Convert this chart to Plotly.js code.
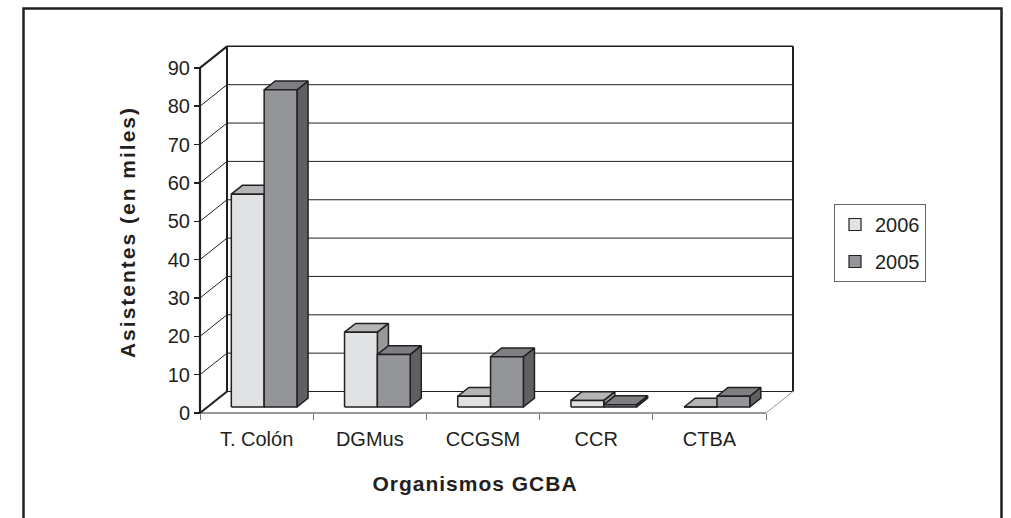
<!DOCTYPE html>
<html><head><meta charset="utf-8">
<script src="https://cdn.plot.ly/plotly-3.0.1.min.js"></script>
<style>
html,body{margin:0;padding:0;background:#fff}
#chart{width:1011px;height:518px}
.ytitle{letter-spacing:2px}
.xtitle{letter-spacing:1px}
</style></head><body><div id="chart"></div>
<script>
// ---- data ----
const categories = ['T. Colón', 'DGMus', 'CCGSM', 'CCR', 'CTBA'];
const seriesNames = ['2006', '2005'];
const values2006 = [55.5, 19.5, 2.8, 1.7, 0];
const values2005 = [82.7, 13.7, 13.1, 0.6, 2.8];
const yTickVals = [0, 10, 20, 30, 40, 50, 60, 70, 80, 90];

// ---- styling / geometry ----
const W = 1011, H = 518, mL = 155, mR = 216, mT = 30, mB = 84;
const pw = W - mL - mR, ph = H - mT - mB;
const axX0 = 200, axXN = 766, axY0 = 413, pxPer10 = 38.35;
const n = categories.length;
const ppx = (axXN - axX0) / n, ppy = pxPer10 / 10;
const xr = [(mL - axX0) / ppx, (mL + pw - axX0) / ppx];
const yr = [(axY0 - (mT + ph)) / ppy, (axY0 - mT) / ppy];
const DX = 27 / ppx, DY = 21.5 / ppy;       // full depth of the 3D box
const yTop = yTickVals[yTickVals.length - 1];
const f0 = 0.28, fb = 0.41;                  // bar depth start / depth
const gap = 0.21, bw = 0.29;                  // bar placement within category
const ink = '#231f20';
const faceColors = {
  '2006': {front: '#e1e2e4', top: '#b4b5b7', side: '#98999b'},
  '2005': {front: '#939598', top: '#7e7f82', side: '#5f6064'}
};
const FONT = 'Liberation Sans, Arial, sans-serif';

function seg(list, width, color) {
  const x = [], y = [];
  list.forEach(s => { x.push(s[0], s[2], null); y.push(s[1], s[3], null); });
  return {type: 'scatter', mode: 'lines', x, y, line: {color, width},
          hoverinfo: 'skip', showlegend: false};
}

const traces = [];
// back wall gridlines
const inner = yTickVals.slice(1, -1);
traces.push(seg(inner.map(v => [DX, v + DY, n + DX, v + DY]), 1, ink));
traces.push(seg([[DX, DY, n + DX, DY]], 1, ink));
traces.push(seg([[DX, yTop + DY, n + DX, yTop + DY]], 1.5, ink));
// left wall diagonals
traces.push(seg(inner.map(v => [0, v, DX, v + DY]), 1, ink));
traces.push(seg([[0, 0, DX, DY], [0, yTop, DX, yTop + DY]], 2, ink));
// back wall vertical edges
traces.push(seg([[DX, DY, DX, yTop + DY], [n + DX, DY, n + DX, yTop + DY]], 2, ink));
// front value axis
traces.push(seg([[0, 0, 0, yTop]], 2.2, ink));
// floor
traces.push(seg([[0, 0, n, 0]], 1.2, '#333'));
traces.push(seg([[n, 0, n + DX, DY]], 1, '#999'));

// bars
const allVals = {'2006': values2006, '2005': values2005};
const fx = f0 * DX, fy = f0 * DY, bx = fb * DX, by = fb * DY;
seriesNames.forEach((name, s) => {
  const vals = allVals[name];
  const faces = {side: {x: [], y: []}, top: {x: [], y: []}, front: {x: [], y: []}};
  vals.forEach((v, i) => {
    const x0 = i + gap + s * bw + fx, x1 = x0 + bw;
    faces.front.x.push(x0, x1, x1, x0, x0, null);
    faces.front.y.push(fy, fy, fy + v, fy + v, fy, null);
    faces.top.x.push(x0, x1, x1 + bx, x0 + bx, x0, null);
    faces.top.y.push(fy + v, fy + v, fy + v + by, fy + v + by, fy + v, null);
    faces.side.x.push(x1, x1 + bx, x1 + bx, x1, x1, null);
    faces.side.y.push(fy, fy + by, fy + v + by, fy + v, fy, null);
  });
  ['side', 'top', 'front'].forEach(k => {
    traces.push({type: 'scatter', mode: 'lines', x: faces[k].x, y: faces[k].y,
      fill: 'toself', fillcolor: faceColors[name][k],
      line: {color: ink, width: 1.5}, hoverinfo: 'skip', showlegend: false});
  });
});
// legend entries
seriesNames.forEach(name => {
  traces.push({type: 'scatter', mode: 'markers', x: [null], y: [null], name,
    legendgroup: name,
    marker: {symbol: 'square', size: 12, color: faceColors[name].front,
             line: {color: ink, width: 1.2}}});
});

const layout = {
  width: W, height: H,
  margin: {l: mL, r: mR, t: mT, b: mB},
  paper_bgcolor: '#fff', plot_bgcolor: 'rgba(0,0,0,0)',
  font: {family: FONT, color: ink, size: 20},
  showlegend: true,
  legend: {x: (834 - mL) / pw, y: (mT + ph - 204) / ph, xanchor: 'left', yanchor: 'top',
    bgcolor: '#fff', bordercolor: '#666', borderwidth: 1,
    font: {size: 20, family: FONT, color: ink}, tracegroupgap: 8},
  xaxis: {range: xr, anchor: 'free', position: (mT + ph - axY0) / ph,
    showgrid: false, zeroline: false, showline: false,
    tickmode: 'array', tickvals: categories.map((c, i) => i + 0.5), ticktext: categories,
    ticks: '', ticklabelstandoff: 12, tickfont: {size: 20, family: FONT, color: ink},
    minor: {tickmode: 'array', tickvals: categories.map((c, i) => i).concat([n]),
            ticks: 'outside', ticklen: 6, tickwidth: 1, tickcolor: '#777', showgrid: false},
    title: {text: 'Organismos GCBA', font: {size: 21, weight: 'bold', family: FONT, color: ink}, standoff: 27},
    fixedrange: true},
  yaxis: {range: yr, anchor: 'free', position: (axX0 - mL) / pw,
    showgrid: false, zeroline: false, showline: false,
    tickmode: 'array', tickvals: yTickVals,
    ticks: 'outside', ticklen: 6, tickwidth: 1.5, tickcolor: ink,
    tickfont: {size: 20, family: FONT, color: ink},
    title: {text: 'Asistentes (en miles)', font: {size: 21, weight: 'bold', family: FONT, color: ink}, standoff: 25},
    fixedrange: true},
  shapes: [{type: 'rect', xref: 'paper', yref: 'paper',
    x0: (23.5 - mL) / pw, x1: (1001.5 - mL) / pw,
    y0: (mT + ph - (H + 20)) / ph, y1: (mT + ph - 8.5) / ph,
    line: {color: ink, width: 2.5}, fillcolor: 'rgba(0,0,0,0)', layer: 'below'}]
};
Plotly.newPlot('chart', traces, layout, {staticPlot: true, displayModeBar: false});
</script></body></html>
